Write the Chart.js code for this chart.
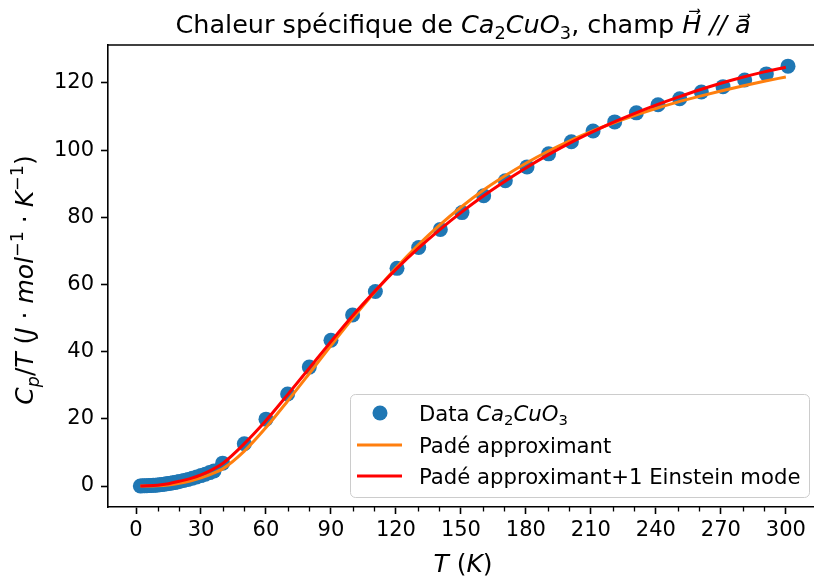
<!DOCTYPE html>
<html>
<head>
<meta charset="utf-8">
<script src="https://cdn.jsdelivr.net/npm/chart.js@4.4.1/dist/chart.umd.min.js"></script>
<style>
html,body{margin:0;padding:0;background:#fff;overflow:hidden;}
#wrap{width:814px;height:581px;position:relative;}
canvas{display:block;}
</style>
</head>
<body>
<div id="wrap"><canvas id="c" width="814" height="581"></canvas></div>
<script>
// ---- Data ----
const dataT = [2,3,4,5,6,7,8,9,10,11,12,13,14,15,16,17,18,19,20,22,24,26,28,30,32,34,36,
  40,50,60,70,80,90,100,110.5,120.5,130.5,140.5,150.5,160.5,170.5,180.5,190.5,201,211,221,231,241,251,261,271,281,291,301];
const dataCpT = [0.0,0.05,0.08,0.1,0.13,0.17,0.2,0.25,0.3,0.38,0.45,0.55,0.65,0.75,0.85,0.95,1.05,1.2,1.35,1.65,1.95,2.3,2.7,3.1,3.5,4.0,4.5,
  6.8,12.6,19.9,27.4,35.4,43.4,50.9,57.9,64.8,71.0,76.4,81.4,86.4,90.9,95.0,98.9,102.5,105.7,108.4,111.1,113.5,115.3,117.3,118.9,120.9,122.7,125.0];

const fitT = [2,5,10,15,20,25,30,35,40,50,60,70,80,90,100,110,120,130,140,150,160,170,180,190,200,210,220,230,240,250,260,270,280,290,300];
const padeFit = [0.0,0.0,0.05,0.3,0.8,1.5,2.4,3.6,5.1,10.4,17.4,25.3,33.5,41.8,49.9,57.6,64.9,71.6,77.6,83.0,87.9,92.2,96.1,99.6,102.7,105.5,108.0,110.3,112.4,114.3,116.0,117.6,119.1,120.5,121.8];
const padeEinsteinFit = [0.0,0.05,0.25,0.7,1.4,2.2,3.3,4.8,6.7,12.6,19.5,27.2,35.1,43.0,50.7,57.8,64.5,70.6,76.2,81.4,86.2,90.6,94.7,98.5,102.0,105.2,108.2,110.9,113.4,115.7,117.9,119.9,121.7,123.3,124.7];

const xTicks = [0,30,60,90,120,150,180,210,240,270,300];
const xMinorTicks = [10,20,40,50,70,80,100,110,130,140,160,170,190,200,220,230,250,260,280,290];
const yTicks = [0,20,40,60,80,100,120];

const seriesNames = ['Data', 'Padé approximant', 'Padé approximant+1 Einstein mode'];

// ---- Style ----
const BLUE = '#1f77b4', ORANGE = '#ff7f0e', RED = '#ff0000';
const FONT = '"DejaVu Sans", sans-serif';
const TICK_SIZE = 21, LABEL_SIZE = 25, TITLE_SIZE = 25.5, LEGEND_SIZE = 21.2;

function segFont(s, size) {
  const sz = (s.sub || s.sup) ? size * 0.7 : size;
  return (s.i ? 'italic ' : '') + sz.toFixed(1) + 'px ' + FONT;
}
function richWidth(ctx, segs, size) {
  let w = 0;
  for (const s of segs) { ctx.font = segFont(s, size); w += ctx.measureText(s.t).width; }
  return w;
}
function drawRich(ctx, segs, x, y, size, align) {
  const w = richWidth(ctx, segs, size);
  let cx = align === 'center' ? x - w / 2 : (align === 'right' ? x - w : x);
  ctx.textBaseline = 'alphabetic';
  ctx.textAlign = 'left';
  for (const s of segs) {
    ctx.font = segFont(s, size);
    let dy = 0;
    if (s.sub) dy = size * 0.22;
    if (s.sup) dy = -size * 0.42;
    ctx.fillText(s.t, cx, y + dy);
    cx += ctx.measureText(s.t).width;
  }
}

const titleSegs = [
  {t:'Chaleur spécifique de '}, {t:'Ca', i:1}, {t:'2', sub:1}, {t:'CuO', i:1}, {t:'3', sub:1},
  {t:', champ '}, {t:'H\u20D7', i:1}, {t:' // ', i:1}, {t:'a\u20D7', i:1}
];
const xLabelSegs = [{t:'T', i:1}, {t:' ('}, {t:'K', i:1}, {t:')'}];
const yLabelSegs = [
  {t:'C', i:1}, {t:'p', i:1, sub:1}, {t:'/'}, {t:'T', i:1}, {t:' ('}, {t:'J', i:1}, {t:' · '},
  {t:'mol', i:1}, {t:'−1', sup:1}, {t:' · '}, {t:'K', i:1}, {t:'−1', sup:1}, {t:')'}
];
const legendLabels = [
  [{t:'Data '}, {t:'Ca', i:1}, {t:'2', sub:1}, {t:'CuO', i:1}, {t:'3', sub:1}],
  [{t:seriesNames[1]}],
  [{t:seriesNames[2]}]
];

const decor = {
  id: 'decor',
  afterDraw(chart) {
    const ctx = chart.ctx;
    const xs = chart.scales.x, ys = chart.scales.y;
    const L = xs.getPixelForValue(xs.min), R = xs.getPixelForValue(xs.max);
    const T = ys.getPixelForValue(ys.max), B = ys.getPixelForValue(ys.min);
    ctx.save();
    // top spine (the right spine lies just beyond the picture's edge, as in the reference)
    ctx.strokeStyle = '#000'; ctx.lineWidth = 1.6;
    ctx.beginPath();
    ctx.moveTo(L - 0.8, T); ctx.lineTo(R + 2, T);
    ctx.stroke();
    // minor x ticks
    ctx.lineWidth = 1.3;
    ctx.beginPath();
    for (const v of xMinorTicks) {
      const px = Math.round(xs.getPixelForValue(v)) + 0.5;
      ctx.moveTo(px, B); ctx.lineTo(px, B + 4.5);
    }
    ctx.stroke();
    ctx.fillStyle = '#000';
    const cx = 463;
    // title
    drawRich(ctx, titleSegs, cx, 33, TITLE_SIZE, 'center');
    // x label
    drawRich(ctx, xLabelSegs, cx, 572, LABEL_SIZE, 'center');
    // y label
    ctx.save();
    ctx.translate(33, (T + B) / 2 + 4);
    ctx.rotate(-Math.PI / 2);
    drawRich(ctx, yLabelSegs, 0, 0, LABEL_SIZE, 'center');
    ctx.restore();
    // legend
    const bx = 350, by = 394, bw = 459, bh = 103, r = 5;
    ctx.fillStyle = 'rgba(255,255,255,0.8)';
    ctx.strokeStyle = '#cccccc'; ctx.lineWidth = 1;
    ctx.beginPath();
    ctx.roundRect(bx + 0.5, by + 0.5, bw, bh, r);
    ctx.fill(); ctx.stroke();
    const rows = [413, 445, 476];
    ctx.fillStyle = BLUE;
    ctx.beginPath(); ctx.arc(380, rows[0], 7.5, 0, Math.PI * 2); ctx.fill();
    ctx.lineWidth = 3; ctx.lineCap = 'butt';
    ctx.strokeStyle = ORANGE;
    ctx.beginPath(); ctx.moveTo(357, rows[1]); ctx.lineTo(402, rows[1]); ctx.stroke();
    ctx.strokeStyle = RED;
    ctx.beginPath(); ctx.moveTo(357, rows[2]); ctx.lineTo(402, rows[2]); ctx.stroke();
    ctx.fillStyle = '#000';
    for (let i = 0; i < 3; i++) drawRich(ctx, legendLabels[i], 419, rows[i] + 7.5, LEGEND_SIZE, 'left');
    ctx.restore();
  }
};

const ctx = document.getElementById('c').getContext('2d');
new Chart(ctx, {
  data: {
    datasets: [
      { type: 'line', label: seriesNames[2], data: fitT.map((t, i) => ({x: t, y: padeEinsteinFit[i]})),
        borderColor: RED, borderWidth: 3, pointRadius: 0, cubicInterpolationMode: 'monotone', fill: false, order: 0 },
      { type: 'line', label: seriesNames[1], data: fitT.map((t, i) => ({x: t, y: padeFit[i]})),
        borderColor: ORANGE, borderWidth: 3, pointRadius: 0, cubicInterpolationMode: 'monotone', fill: false, order: 1 },
      { type: 'scatter', label: seriesNames[0], data: dataT.map((t, i) => ({x: t, y: dataCpT[i]})),
        backgroundColor: BLUE, borderWidth: 0, pointRadius: 7.5, pointHoverRadius: 7.5, order: 2 }
    ]
  },
  options: {
    responsive: false,
    devicePixelRatio: 1,
    animation: false,
    layout: { autoPadding: false, padding: { top: 45, right: 0, left: 0, bottom: 0 } },
    plugins: { legend: { display: false }, title: { display: false }, tooltip: { enabled: false } },
    scales: {
      x: {
        type: 'linear', min: -12.93, max: 313.0,
        afterBuildTicks: s => { s.ticks = xTicks.map(v => ({value: v})); },
        afterFit: s => { s.height = 74; s.paddingLeft = 0; s.paddingRight = 0; },
        grid: { drawOnChartArea: false, drawTicks: true, tickLength: 7, tickWidth: 1.6, tickColor: '#000' },
        border: { display: true, color: '#000', width: 1.6 },
        ticks: { color: '#000', font: { family: 'DejaVu Sans', size: TICK_SIZE }, padding: 4, maxRotation: 0, autoSkip: false }
      },
      y: {
        type: 'linear', min: -6.25, max: 131.3,
        afterBuildTicks: s => { s.ticks = yTicks.map(v => ({value: v})); },
        afterFit: s => { s.width = 108; s.paddingTop = 0; s.paddingBottom = 0; },
        grid: { drawOnChartArea: false, drawTicks: true, tickLength: 7, tickWidth: 1.6, tickColor: '#000' },
        border: { display: true, color: '#000', width: 1.6 },
        ticks: { color: '#000', font: { family: 'DejaVu Sans', size: TICK_SIZE }, padding: 7, autoSkip: false }
      }
    }
  },
  plugins: [decor]
});
</script>
</body>
</html>
